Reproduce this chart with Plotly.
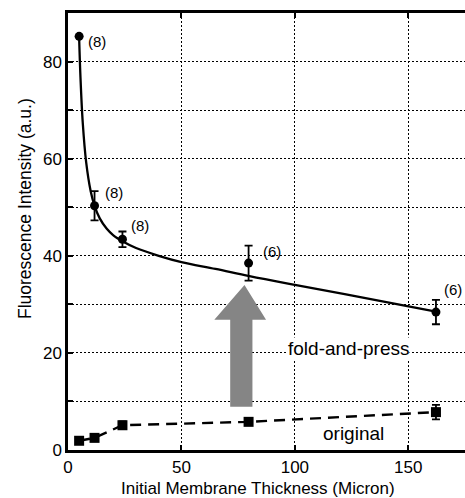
import plotly.graph_objects as go

# fold-and-press measurements
fp_x = [4.9, 11.7, 24.0, 79.6, 162.2]
fp_y = [85.2, 50.3, 43.4, 38.5, 28.4]
fp_err = [0.0, 3.0, 1.6, 3.6, 2.5]
fp_n = ["(8)", "(8)", "(8)", "(6)", "(6)"]

# fitted curve
fit_x = [4.9, 5.5, 6.5, 8, 10, 11.7, 14, 17, 20, 24, 30, 40, 50, 65, 80, 100, 130, 162.2]
fit_y = [85.0, 76.7, 67.4, 59.3, 53.3, 50.3, 47.7, 45.6, 44.2, 43.0, 41.6, 40.0, 38.7, 37.3, 35.8, 34.0, 31.4, 28.5]

# original membranes
or_x = [4.9, 11.7, 24.0, 79.6, 162.2]
or_y = [1.9, 2.5, 5.1, 5.8, 7.8]
or_err = [0.4, 0.4, 0.8, 0.5, 1.5]

x_ticks = [0, 50, 100, 150]
y_ticks = [0, 10, 20, 30, 40, 50, 60, 70, 80]
y_ticktext = ["0", "", "20", "", "40", "", "60", "", "80"]

FONT = "Liberation Sans, Arial, sans-serif"

fig = go.Figure()

# grey arrow (data coordinates)
fig.add_shape(type="path", xref="x", yref="y",
              path="M 71.5 8.9 L 81.3 8.9 L 81.3 26.8 L 87.3 26.8 L 77.8 34.0 L 64.5 26.8 L 71.5 26.8 Z",
              fillcolor="#858585", line=dict(width=0), layer="above")

fig.add_trace(go.Scatter(x=fit_x, y=fit_y, mode="lines", line=dict(color="black", width=2.3, shape="spline"),
                         hoverinfo="skip", showlegend=False))
fig.add_trace(go.Scatter(x=or_x, y=or_y, mode="lines+markers",
                         line=dict(color="black", width=2.4, dash="11px,7px"),
                         marker=dict(symbol="square", size=10, color="black"),
                         error_y=dict(type="data", array=or_err, color="black", thickness=1.8, width=4),
                         showlegend=False))
fig.add_trace(go.Scatter(x=fp_x, y=fp_y, mode="markers",
                         marker=dict(symbol="circle", size=9, color="black"),
                         error_y=dict(type="data", array=fp_err, color="black", thickness=1.8, width=4),
                         showlegend=False))

# sample-count labels (pixel offsets from the point)
label_dx = [7, 8, 7, 12, 6]
label_dy = [-5, 13, 14, 12, 23]
for xv, yv, t, dx, dy in zip(fp_x, fp_y, fp_n, label_dx, label_dy):
    fig.add_annotation(x=xv, y=yv, text=t, showarrow=False, xanchor="left", yanchor="middle",
                       xshift=dx, yshift=dy, font=dict(size=15, color="black", family=FONT))

fig.add_annotation(x=123.5, y=21, text="fold-and-press", showarrow=False, bgcolor="white",
                   font=dict(size=19, color="black", family=FONT), borderpad=0)
fig.add_annotation(x=126, y=3.4, text="original", showarrow=False, bgcolor="white",
                   font=dict(size=19, color="black", family=FONT), borderpad=0)

# axis titles
fig.add_annotation(xref="paper", yref="paper", x=(258 - 68) / 397, y=-38 / 437, text="Initial Membrane Thickness (Micron)",
                   showarrow=False, yanchor="middle", xanchor="center", font=dict(size=17, color="black", family=FONT))
fig.add_annotation(xref="paper", yref="paper", x=-(68 - 25) / 397, y=(450 - 209) / 437, text="Fluorescence Intensity (a.u.)",
                   showarrow=False, textangle=-90, yanchor="middle", xanchor="center", font=dict(size=17.5, color="black", family=FONT))

fig.update_layout(
    width=465, height=498,
    margin=dict(l=68, r=0, t=13, b=48),
    plot_bgcolor="white", paper_bgcolor="white",
    font=dict(family=FONT, size=17, color="black"),
)
fig.update_xaxes(range=[0, 175], tickvals=x_ticks, ticks="inside", ticklen=5, tickwidth=1.5, tickcolor="black",
                 showline=True, linewidth=2.5, linecolor="black", mirror="ticks",
                 showgrid=True, gridcolor="black", gridwidth=1.2, griddash="2px,2px", zeroline=False,
                 tickfont=dict(size=17, family=FONT))
fig.update_yaxes(range=[0, 90], tickvals=y_ticks, ticktext=y_ticktext, ticks="inside", ticklen=5, tickwidth=1.5,
                 tickcolor="black", showline=True, linewidth=2.5, linecolor="black",
                 showgrid=True, gridcolor="black", gridwidth=1.2, griddash="2px,2px", zeroline=False,
                 tickfont=dict(size=17, family=FONT))

fig.write_html("out.html", config={"displayModeBar": False},
               post_script="document.body.style.margin='0px';document.body.style.overflow='hidden';")
